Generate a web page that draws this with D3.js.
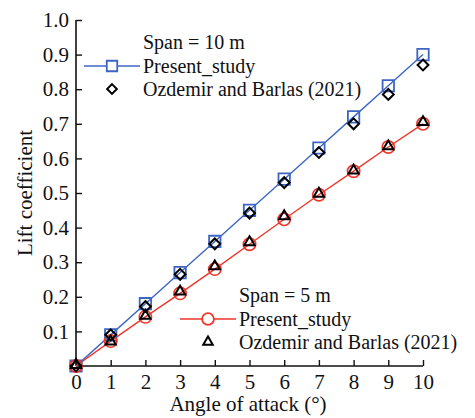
<!DOCTYPE html>
<html><head><meta charset="utf-8">
<script src="https://cdn.jsdelivr.net/npm/d3@7"></script>
<style>body{margin:0;background:#fff}svg text{font-family:"Liberation Serif","Times New Roman",serif;fill:#111}</style>
</head><body><svg id="c" width="475" height="418"></svg>
<script>
const angles = [0,1,2,3,4,5,6,7,8,9,10];
const present10 = [0,0.09,0.18,0.27,0.36,0.45,0.54,0.63,0.72,0.81,0.90];
const ozdemir10 = [0,0.09,0.172,0.265,0.353,0.442,0.53,0.617,0.70,0.785,0.87];
const present5 = [0,0.072,0.142,0.21,0.28,0.352,0.424,0.495,0.563,0.633,0.70];
const ozdemir5 = [0,0.068,0.142,0.212,0.285,0.355,0.43,0.495,0.562,0.632,0.702];
const xTicks = [0,1,2,3,4,5,6,7,8,9,10];
const yTicks = [0.1,0.2,0.3,0.4,0.5,0.6,0.7,0.8,0.9,1.0];

const blue = "#3d66c4", red = "#f0352a";
const svg = d3.select("#c");
const x = d3.scaleLinear().domain([0,10]).range([76,423]);
const y = d3.scaleLinear().domain([0,1]).range([366,20]);

const xa = svg.append("g").attr("transform","translate(0,366)")
  .call(d3.axisBottom(x).tickValues(xTicks).tickSize(-6).tickPadding(8).tickFormat(d3.format("d")));
const ya = svg.append("g").attr("transform","translate(76,0)")
  .call(d3.axisLeft(y).tickValues(yTicks).tickSize(-6).tickPadding(7).tickFormat(d3.format(".1f")));
[xa,ya].forEach(g=>{
  g.select(".domain").attr("stroke","#111").attr("stroke-width",1.6);
  g.selectAll(".tick line").attr("stroke","#111").attr("stroke-width",1.4);
  g.selectAll("text").attr("font-size",21).attr("fill","#111").style("font-family",'"Liberation Serif",serif');
});
xa.select(".domain").attr("d","M76,0H423");
ya.select(".domain").attr("d","M0,366V20");

svg.append("text").attr("x",248).attr("y",411).attr("text-anchor","middle").attr("font-size",21).text("Angle of attack (°)");
svg.append("text").attr("transform","translate(32,193) rotate(-90)").attr("text-anchor","middle").attr("font-size",21).text("Lift coefficient");

const line = d3.line().x((d,i)=>x(angles[i])).y(d=>y(d));
svg.append("path").attr("d",line(present10)).attr("fill","none").attr("stroke",blue).attr("stroke-width",1.4);
svg.append("path").attr("d",line(present5)).attr("fill","none").attr("stroke",red).attr("stroke-width",1.4);

const sq = d3.symbol().type(d3.symbolSquare).size(130);
const ci = d3.symbol().type(d3.symbolCircle).size(120);
const di = d3.symbol().type(d3.symbolDiamond2).size(75);
const tr = d3.symbol().type(d3.symbolTriangle2).size(75);

function pts(data, sym, color, sw, dy){
  svg.append("g").selectAll("path").data(data).join("path")
    .attr("transform",(d,i)=>`translate(${x(angles[i])},${y(d)+(dy||0)})`)
    .attr("d",sym).attr("fill","none").attr("stroke",color).attr("stroke-width",sw);
}
pts(present10, sq, blue, 1.8);
pts(present5, ci, red, 1.6);
pts(ozdemir10, di, "#000", 2);
pts(ozdemir5, tr, "#000", 2, -1);

function legend(x0, yTitle, title, color, sym, sym2){
  svg.append("text").attr("x",x0+59).attr("y",yTitle+7).attr("font-size",20).text(title);
  const y1 = yTitle+24, y2 = yTitle+47;
  svg.append("line").attr("x1",x0).attr("x2",x0+56).attr("y1",y1).attr("y2",y1).attr("stroke",color).attr("stroke-width",1.4);
  svg.append("path").attr("transform",`translate(${x0+28},${y1})`).attr("d",sym).attr("fill","#fff").attr("stroke",color).attr("stroke-width",1.8);
  svg.append("text").attr("x",x0+59).attr("y",y1+7).attr("font-size",20).text("Present_study");
  svg.append("path").attr("transform",`translate(${x0+28},${y2})`).attr("d",sym2).attr("fill","none").attr("stroke","#000").attr("stroke-width",2);
  svg.append("text").attr("x",x0+59).attr("y",y2+7).attr("font-size",20).text("Ozdemir and Barlas (2021)");
}
legend(84, 42, "Span = 10 m", blue, d3.symbol().type(d3.symbolSquare).size(110)(), d3.symbol().type(d3.symbolDiamond2).size(60)());
legend(180, 295, "Span = 5 m", red, d3.symbol().type(d3.symbolCircle).size(110)(), d3.symbol().type(d3.symbolTriangle2).size(65)());
</script></body></html>
